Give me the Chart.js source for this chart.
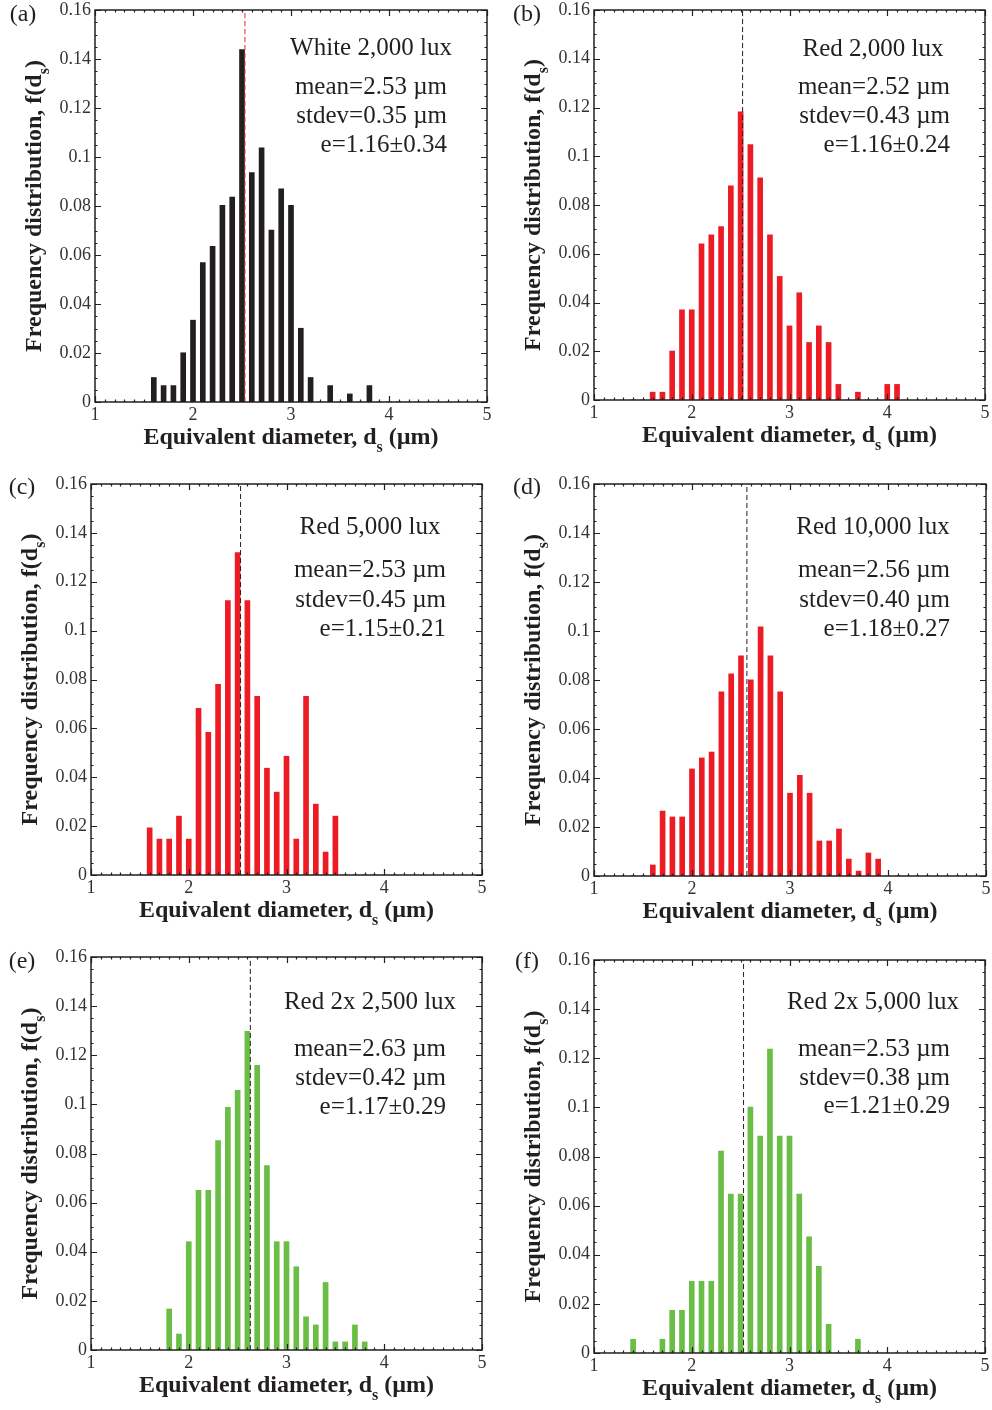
<!DOCTYPE html>
<html>
<head>
<meta charset="utf-8">
<script src="https://cdn.jsdelivr.net/npm/chart.js@4.4.0/dist/chart.umd.min.js"></script>
<style>
    body { margin: 0; background: #fff; width: 992px; height: 1410px; position: relative; overflow: hidden; }
    canvas { position: absolute; }
</style>
</head>
<body>
<canvas id="chart_a"></canvas>
<canvas id="chart_b"></canvas>
<canvas id="chart_c"></canvas>
<canvas id="chart_d"></canvas>
<canvas id="chart_e"></canvas>
<canvas id="chart_f"></canvas>
<script>
// bin centres, equivalent diameter d_s (um)
const diameters = [1.4, 1.5, 1.6, 1.7, 1.8, 1.9, 2.0, 2.1, 2.2, 2.3, 2.4, 2.5, 2.6, 2.7,
                   2.8, 2.9, 3.0, 3.1, 3.2, 3.3, 3.4, 3.5, 3.6, 3.7, 3.8, 3.9, 4.0, 4.1]

// frequency distribution f(d_s), one list per panel
const freq_a = [0, 0, 0.0100, 0.0067, 0.0067, 0.0201, 0.0334, 0.0569, 0.0635, 0.0803, 0.0836, 0.1438, 0.0936, 0.1037,
                0.0702, 0.0870, 0.0803, 0.0301, 0.0100, 0, 0.0067, 0, 0.0033, 0, 0.0067, 0, 0, 0]
const freq_b = [0, 0, 0.0032, 0.0032, 0.0201, 0.0370, 0.0370, 0.0641, 0.0678, 0.0711, 0.0879, 0.1182, 0.1048, 0.0911,
                0.0678, 0.0507, 0.0304, 0.0440, 0.0236, 0.0304, 0.0236, 0.0064, 0, 0.0032, 0, 0, 0.0064, 0.0064]
const freq_c = [0, 0, 0.0193, 0.0147, 0.0147, 0.0241, 0.0147, 0.0682, 0.0584, 0.0780, 0.1123, 0.1319, 0.1123, 0.0731,
                0.0437, 0.0339, 0.0486, 0.0147, 0.0731, 0.0290, 0.0094, 0.0241, 0, 0, 0, 0, 0, 0]
const freq_d = [0, 0, 0.0045, 0.0265, 0.0241, 0.0241, 0.0437, 0.0482, 0.0506, 0.0752, 0.0825, 0.0899, 0.0801, 0.1017,
                0.0899, 0.0752, 0.0338, 0.0411, 0.0338, 0.0143, 0.0143, 0.0192, 0.0069, 0.0020, 0.0094, 0.0069, 0, 0]
const freq_e = [0, 0, 0, 0, 0.0167, 0.0065, 0.0441, 0.0650, 0.0650, 0.0853, 0.0988, 0.1057, 0.1297, 0.1159,
                0.0751, 0.0441, 0.0441, 0.0339, 0.0135, 0.0102, 0.0275, 0.0033, 0.0033, 0.0102, 0.0033, 0, 0, 0]
const freq_f = [0.0056, 0, 0, 0.0056, 0.0174, 0.0174, 0.0292, 0.0292, 0.0292, 0.0822, 0.0647, 0.0647, 0.1001, 0.0883,
                0.1237, 0.0883, 0.0883, 0.0647, 0.0473, 0.0353, 0.0117, 0, 0, 0.0056, 0, 0, 0, 0]

const means = [2.53, 2.52, 2.53, 2.56, 2.63, 2.53]
const conditions = ["White 2,000 lux", "Red 2,000 lux", "Red 5,000 lux", "Red 10,000 lux", "Red 2x 2,500 lux", "Red 2x 5,000 lux"]
const mean_texts = ["mean=2.53 µm", "mean=2.52 µm", "mean=2.53 µm", "mean=2.56 µm", "mean=2.63 µm", "mean=2.53 µm"]
const stdev_texts = ["stdev=0.35 µm", "stdev=0.43 µm", "stdev=0.45 µm", "stdev=0.40 µm", "stdev=0.42 µm", "stdev=0.38 µm"]
const e_texts = ["e=1.16±0.34", "e=1.16±0.24", "e=1.15±0.21", "e=1.18±0.27", "e=1.17±0.29", "e=1.21±0.29"]
const panel_letters = ["(a)", "(b)", "(c)", "(d)", "(e)", "(f)"]

const x_min = 1, x_max = 5
const y_min = 0, y_max = 0.16

// page layout of each panel (plot box in page pixels, text anchors)
const panels = [
    { id: "a", left: 95, top: 10, w: 392, h: 392, bar: "#231f20", dash: "#ed1c24", title_x: 371, title_y: 48, block_right: 447, lines_y: [87, 116, 145], letter_x: 23, letter_y: 15 },
    { id: "b", left: 594, top: 10, w: 391, h: 390, bar: "#ed1c24", dash: "#231f20", title_x: 873, title_y: 49, block_right: 950, lines_y: [87, 116, 145], letter_x: 527, letter_y: 15 },
    { id: "c", left: 91, top: 484, w: 391, h: 391, bar: "#ed1c24", dash: "#231f20", title_x: 370, title_y: 527, block_right: 446, lines_y: [570, 600, 629], letter_x: 22, letter_y: 488 },
    { id: "d", left: 594, top: 484, w: 392, h: 392, bar: "#ed1c24", dash: "#231f20", title_x: 873, title_y: 527, block_right: 950, lines_y: [570, 600, 629], letter_x: 527, letter_y: 488 },
    { id: "e", left: 91, top: 957, w: 391, h: 393, bar: "#6abd45", dash: "#231f20", title_x: 370, title_y: 1002, block_right: 446, lines_y: [1049, 1078, 1107], letter_x: 22, letter_y: 962 },
    { id: "f", left: 594, top: 960, w: 391, h: 393, bar: "#6abd45", dash: "#231f20", title_x: 873, title_y: 1002, block_right: 950, lines_y: [1049, 1078, 1106], letter_x: 527, letter_y: 962 }
]
const all_freqs = [freq_a, freq_b, freq_c, freq_d, freq_e, freq_f]

const SERIF = "'Liberation Serif', 'Times New Roman', serif"
const INK = "#231f20"
const PAD_L = 95, PAD_T = 22, PAD_R = 15, PAD_B = 65

// draws pieces of text in a row, each with its own font and vertical shift (for subscripts)
function draw_pieces(ctx, pieces, cx, baseline) {
    let total = 0
    for (const pc of pieces) {
        ctx.font = pc.font
        total += ctx.measureText(pc.text).width
    }
    let x = cx - total / 2
    ctx.textAlign = "left"
    ctx.textBaseline = "alphabetic"
    for (const pc of pieces) {
        ctx.font = pc.font
        ctx.fillText(pc.text, x, baseline + pc.dy)
        x += ctx.measureText(pc.text).width
    }
}

const frame_plugin = {
    id: "frame",
    afterDraw(chart) {
        const p = chart.options.plugins.frame
        const ctx = chart.ctx
        const a = chart.chartArea
        const xs = chart.scales.x
        const ys = chart.scales.y
        const ox = p.left - PAD_L, oy = p.top - PAD_T
        ctx.save()
        ctx.strokeStyle = INK
        ctx.lineWidth = 1.2
        ctx.beginPath()
        // x ticks every 0.1, major at integers, bottom and top
        for (let i = x_min * 10; i <= x_max * 10; i++) {
            const px = Math.round(xs.getPixelForValue(i / 10)) + 0.5
            const len = (i % 10 == 0) ? 6 : 2.5
            ctx.moveTo(px, a.bottom); ctx.lineTo(px, a.bottom - len)
            ctx.moveTo(px, a.top); ctx.lineTo(px, a.top + len)
        }
        // y ticks every 0.005, major every 0.02, left and right
        for (let i = 0; i <= 32; i++) {
            const py = Math.round(ys.getPixelForValue(i * 0.005)) + 0.5
            const len = (i % 4 == 0) ? 6 : 2.5
            ctx.moveTo(a.left, py); ctx.lineTo(a.left + len, py)
            ctx.moveTo(a.right, py); ctx.lineTo(a.right - len, py)
        }
        ctx.stroke()
        ctx.lineWidth = 1.5
        ctx.strokeRect(a.left, a.top, a.right - a.left, a.bottom - a.top)

        ctx.fillStyle = INK
        // x title
        draw_pieces(ctx, [
            { text: "Equivalent diameter, d", font: "bold 24px " + SERIF, dy: 0 },
            { text: "s", font: "bold 16px " + SERIF, dy: 8 },
            { text: " (µm)", font: "bold 24px " + SERIF, dy: 0 }
        ], (a.left + a.right) / 2, a.bottom + 42)
        // y title, rotated
        ctx.save()
        ctx.translate(a.left - 54, (a.top + a.bottom) / 2)
        ctx.rotate(-Math.PI / 2)
        draw_pieces(ctx, [
            { text: "Frequency distribution, f(d", font: "bold 24px " + SERIF, dy: 0 },
            { text: "s", font: "bold 16px " + SERIF, dy: 8 },
            { text: ")", font: "bold 24px " + SERIF, dy: 0 }
        ], 0, 0)
        ctx.restore()

        // panel letter and the condition / statistics text
        ctx.textBaseline = "middle"
        ctx.font = "24px " + SERIF
        ctx.textAlign = "center"
        ctx.fillText(p.letter, p.letter_x - ox, p.letter_y - oy)
        ctx.font = "25px " + SERIF
        ctx.fillText(p.condition, p.title_x - ox, p.title_y - oy)
        ctx.textAlign = "right"
        p.block.forEach((t, j) => ctx.fillText(t, p.block_right - ox, p.lines_y[j] - oy))
        ctx.restore()
    }
}

function create_chart(p, k) {
    const canvas = document.querySelector(`#chart_${p.id}`)
    canvas.width = p.w + PAD_L + PAD_R
    canvas.height = p.h + PAD_T + PAD_B
    canvas.style.left = (p.left - PAD_L) + "px"
    canvas.style.top = (p.top - PAD_T) + "px"

    const bars = diameters.map((d, i) => ({ x: d, y: all_freqs[k][i] }))
    const mean_line = [{ x: means[k], y: y_min }, { x: means[k], y: y_max }]

    new Chart(canvas, {
        type: "bar",
        data: {
            datasets: [
                {
                    type: "line",
                    data: mean_line,
                    borderColor: p.dash,
                    borderWidth: 1,
                    borderDash: [5, 3],
                    pointRadius: 0,
                    order: 0
                },
                {
                    data: bars,
                    backgroundColor: p.bar,
                    borderWidth: 0,
                    barThickness: 5,
                    order: 1
                }
            ]
        },
        options: {
            responsive: false,
            animation: false,
            layout: { padding: { left: PAD_L - 60, top: PAD_T, right: PAD_R, bottom: PAD_B - 25 } },
            scales: {
                x: {
                    type: "linear",
                    min: x_min,
                    max: x_max,
                    offset: false,
                    grid: { display: false, drawTicks: false },
                    border: { display: false },
                    ticks: {
                        stepSize: 1,
                        color: "#333",
                        padding: 2,
                        font: { family: SERIF, size: 18 }
                    },
                    afterFit(s) { s.height = 25 }
                },
                y: {
                    min: y_min,
                    max: y_max,
                    grid: { display: false, drawTicks: false },
                    border: { display: false },
                    ticks: {
                        stepSize: 0.02,
                        color: "#333",
                        padding: 4,
                        font: { family: SERIF, size: 18 },
                        callback: v => parseFloat(v.toFixed(2)).toString()
                    },
                    afterFit(s) { s.width = 60 }
                }
            },
            plugins: {
                legend: { display: false },
                tooltip: { enabled: false },
                frame: {
                    left: p.left, top: p.top,
                    letter: panel_letters[k], letter_x: p.letter_x, letter_y: p.letter_y,
                    condition: conditions[k], title_x: p.title_x, title_y: p.title_y,
                    block: [mean_texts[k], stdev_texts[k], e_texts[k]],
                    block_right: p.block_right, lines_y: p.lines_y
                }
            }
        },
        plugins: [frame_plugin]
    })
}

panels.forEach((p, k) => create_chart(p, k))
</script>
</body>
</html>
